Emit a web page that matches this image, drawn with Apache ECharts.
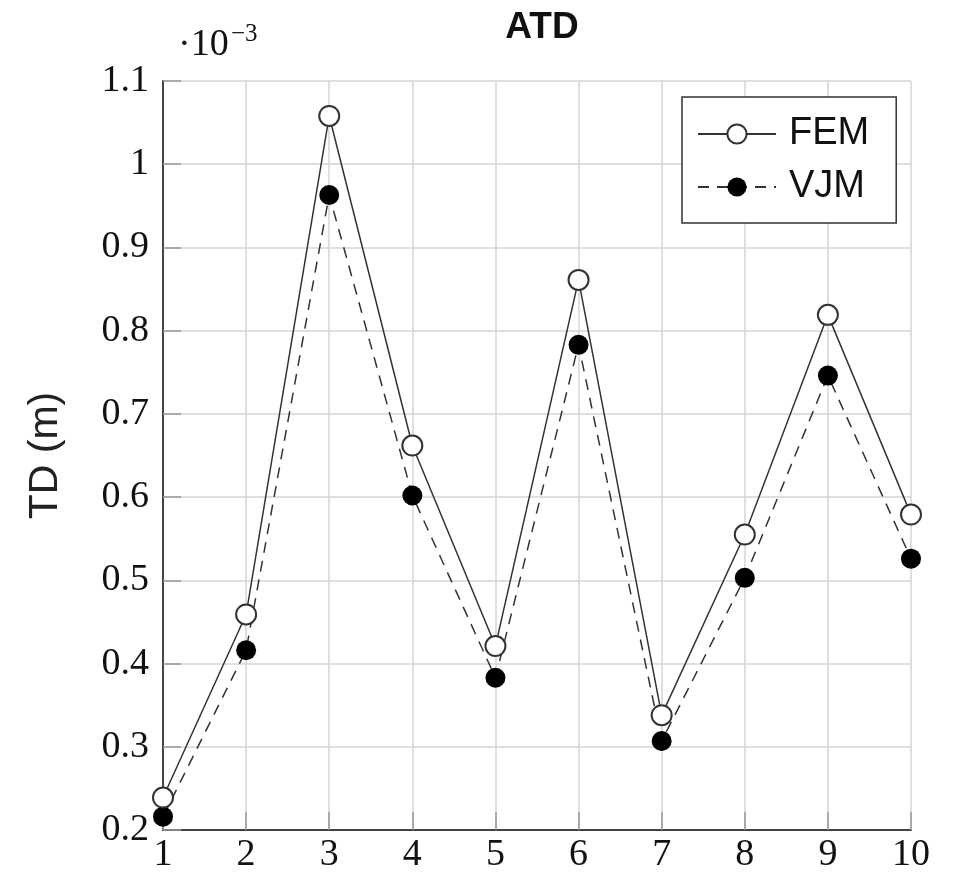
<!DOCTYPE html>
<html>
<head>
<meta charset="utf-8">
<script src="https://cdn.jsdelivr.net/npm/echarts@6/dist/echarts.min.js"></script>
<style>
html,body{margin:0;padding:0;background:#fff;}
#chart{width:958px;height:880px;}
</style>
</head>
<body>
<div id="chart"></div>
<script>
const xValues = [1, 2, 3, 4, 5, 6, 7, 8, 9, 10];
const femValues = [0.239, 0.459, 1.058, 0.662, 0.421, 0.861, 0.338, 0.555, 0.819, 0.579];
const vjmValues = [0.216, 0.416, 0.963, 0.602, 0.383, 0.783, 0.307, 0.503, 0.746, 0.526];
const seriesNames = ['FEM', 'VJM'];
const titleText = 'ATD';
const yAxisName = 'TD (m)';
const scaleBase = '·10';
const scaleExp = '−3';

const chart = echarts.init(document.getElementById('chart'), null, {renderer: 'canvas'});
const pair = (vals) => xValues.map((x, i) => [x, vals[i]]);
const serif = '"Liberation Serif", "DejaVu Serif", serif';
const sans = '"Liberation Sans", Arial, sans-serif';

chart.setOption({
  backgroundColor: '#fff',
  animation: false,
  title: {
    text: titleText,
    left: 537, top: 4, textAlign: 'center',
    textStyle: {fontFamily: sans, fontWeight: 'bold', fontSize: 37, color: '#111'}
  },
  grid: {left: 163, right: 47, top: 81, bottom: 50, containLabel: false},
  legend: {
    left: 682, top: 97,
    orient: 'vertical',
    padding: [18, 27, 17, 15],
    itemGap: 15,
    itemWidth: 78, itemHeight: 24,
    borderColor: '#333', borderWidth: 1.5, borderRadius: 0,
    backgroundColor: '#fff',
    textStyle: {fontFamily: sans, fontSize: 38, color: '#111', padding: [0, 0, 0, 8]},
    data: seriesNames
  },
  xAxis: {
    type: 'value', min: 1, max: 10, interval: 1,
    axisLine: {show: true, onZero: false, lineStyle: {color: '#444', width: 2}},
    axisTick: {show: true, inside: true, length: 18, lineStyle: {color: '#999', width: 1.5}},
    axisLabel: {fontFamily: serif, fontSize: 38, color: '#111', margin: 6},
    splitLine: {show: true, lineStyle: {color: '#d4d4d4', width: 1.5}}
  },
  yAxis: {
    type: 'value', min: 0.2, max: 1.1, interval: 0.1,
    name: yAxisName, nameLocation: 'middle', nameGap: 97,
    nameTextStyle: {fontFamily: sans, fontSize: 41, color: '#222'},
    axisLine: {show: true, onZero: false, lineStyle: {color: '#444', width: 2}},
    axisTick: {show: true, inside: true, length: 18, lineStyle: {color: '#999', width: 1.5}},
    axisLabel: {
      fontFamily: serif, fontSize: 38, color: '#111', margin: 14,
      formatter: (v) => String(parseFloat(v.toFixed(1)))
    },
    splitLine: {show: true, lineStyle: {color: '#d4d4d4', width: 1.5}}
  },
  graphic: [
    {type: 'text', left: 178, top: 26, style: {text: scaleBase, fontFamily: serif, fontSize: 38, fill: '#111'}},
    {type: 'text', left: 231, top: 22, style: {text: scaleExp, fontFamily: serif, fontSize: 25, fill: '#111'}}
  ],
  series: [
    {
      name: seriesNames[1], type: 'line', data: pair(vjmValues),
      symbol: 'circle', symbolSize: 20, z: 3,
      itemStyle: {color: '#000'},
      lineStyle: {color: '#333', width: 1.5, type: [11, 8]}
    },
    {
      name: seriesNames[0], type: 'line', data: pair(femValues),
      symbol: 'emptyCircle', symbolSize: 20, z: 4,
      itemStyle: {color: '#333', borderColor: '#333', borderWidth: 1.5},
      lineStyle: {color: '#333', width: 1.5}
    }
  ]
});
</script>
</body>
</html>
